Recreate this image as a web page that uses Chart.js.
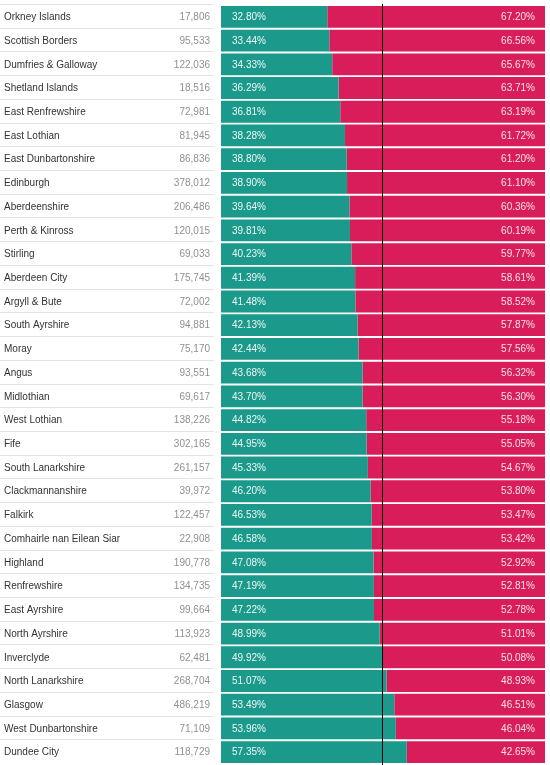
<!DOCTYPE html>
<html>
<head>
<meta charset="utf-8">
<script src="https://cdn.jsdelivr.net/npm/chart.js@4"></script>
<style>
  body { margin: 0; background: #fff; }
  #wrap { width: 550px; height: 765px; position: relative; }
</style>
</head>
<body>
<div id="wrap"><canvas id="myChart"></canvas></div>
<script>
const regions = ['Orkney Islands', 'Scottish Borders', 'Dumfries & Galloway', 'Shetland Islands',
    'East Renfrewshire', 'East Lothian', 'East Dunbartonshire', 'Edinburgh', 'Aberdeenshire',
    'Perth & Kinross', 'Stirling', 'Aberdeen City', 'Argyll & Bute', 'South Ayrshire', 'Moray',
    'Angus', 'Midlothian', 'West Lothian', 'Fife', 'South Lanarkshire', 'Clackmannanshire',
    'Falkirk', 'Comhairle nan Eilean Siar', 'Highland', 'Renfrewshire', 'East Ayrshire',
    'North Ayrshire', 'Inverclyde', 'North Lanarkshire', 'Glasgow', 'West Dunbartonshire',
    'Dundee City'];

const voters = [17806, 95533, 122036, 18516, 72981, 81945, 86836, 378012, 206486, 120015,
    69033, 175745, 72002, 94881, 75170, 93551, 69617, 138226, 302165, 261157, 39972,
    122457, 22908, 190778, 134735, 99664, 113923, 62481, 268704, 486219, 71109, 118729];

const yesPct = [32.80, 33.44, 34.33, 36.29, 36.81, 38.28, 38.80, 38.90, 39.64, 39.81, 40.23,
    41.39, 41.48, 42.13, 42.44, 43.68, 43.70, 44.82, 44.95, 45.33, 46.20, 46.53, 46.58,
    47.08, 47.19, 47.22, 48.99, 49.92, 51.07, 53.49, 53.96, 57.35];

const noPct = [67.20, 66.56, 65.67, 63.71, 63.19, 61.72, 61.20, 61.10, 60.36, 60.19, 59.77,
    58.61, 58.52, 57.87, 57.56, 56.32, 56.30, 55.18, 55.05, 54.67, 53.80, 53.47, 53.42,
    52.92, 52.81, 52.78, 51.01, 50.08, 48.93, 46.51, 46.04, 42.65];

const yesColor = '#1b9a8b';
const noColor = '#d91d5b';

// table columns on the left, separators, bar labels and the 50% line
const tablePlugin = {
    id: 'tablePlugin',
    afterDatasetsDraw(chart) {
        const ctx = chart.ctx;
        const area = chart.chartArea;
        const yScale = chart.scales.y;
        const step = (area.bottom - area.top) / regions.length;

        ctx.save();
        // row separators
        ctx.strokeStyle = '#e4e4e4';
        ctx.lineWidth = 1;
        for (let i = 0; i <= regions.length - 1; i++) {
            const y = Math.round(area.top + i * step) - 0.5;
            ctx.beginPath();
            ctx.moveTo(0, y);
            ctx.lineTo(214, y);
            ctx.stroke();
        }

        ctx.font = '10px "Liberation Sans", Arial, sans-serif';
        ctx.textBaseline = 'middle';
        regions.forEach((name, i) => {
            const y = yScale.getPixelForValue(i) + 0.5;
            ctx.fillStyle = '#333';
            ctx.textAlign = 'left';
            ctx.fillText(name, 4, y);
            ctx.fillStyle = '#909090';
            ctx.textAlign = 'right';
            ctx.fillText(voters[i].toLocaleString('en-GB'), 210, y);

            ctx.fillStyle = 'rgba(255,255,255,0.92)';
            ctx.textAlign = 'left';
            ctx.fillText(yesPct[i].toFixed(2) + '%', area.left + 11, y);
            ctx.fillStyle = 'rgba(255,240,245,0.92)';
            ctx.textAlign = 'right';
            ctx.fillText(noPct[i].toFixed(2) + '%', area.right - 10, y);
        });

        // 50% line
        const x = Math.round(chart.scales.x.getPixelForValue(50)) - 0.5;
        ctx.strokeStyle = '#000';
        ctx.beginPath();
        ctx.moveTo(x, area.top - 1);
        ctx.lineTo(x, chart.height);
        ctx.stroke();
        ctx.restore();
    }
};

const myChart = new Chart(document.getElementById('myChart'), {
    type: 'bar',
    data: {
        labels: regions,
        datasets: [{
            label: 'Yes',
            data: yesPct,
            backgroundColor: yesColor,
            barPercentage: 0.92,
            categoryPercentage: 1
        }, {
            label: 'No',
            data: noPct,
            backgroundColor: noColor,
            barPercentage: 0.92,
            categoryPercentage: 1
        }]
    },
    options: {
        indexAxis: 'y',
        responsive: true,
        maintainAspectRatio: false,
        animation: false,
        layout: { padding: { left: 221, right: 5, top: 5, bottom: 1 } },
        scales: {
            x: { stacked: true, min: 0, max: 100, display: false },
            y: { stacked: true, display: false }
        },
        plugins: {
            legend: { display: false },
            tooltip: { enabled: false }
        }
    },
    plugins: [tablePlugin]
});
</script>
</body>
</html>
